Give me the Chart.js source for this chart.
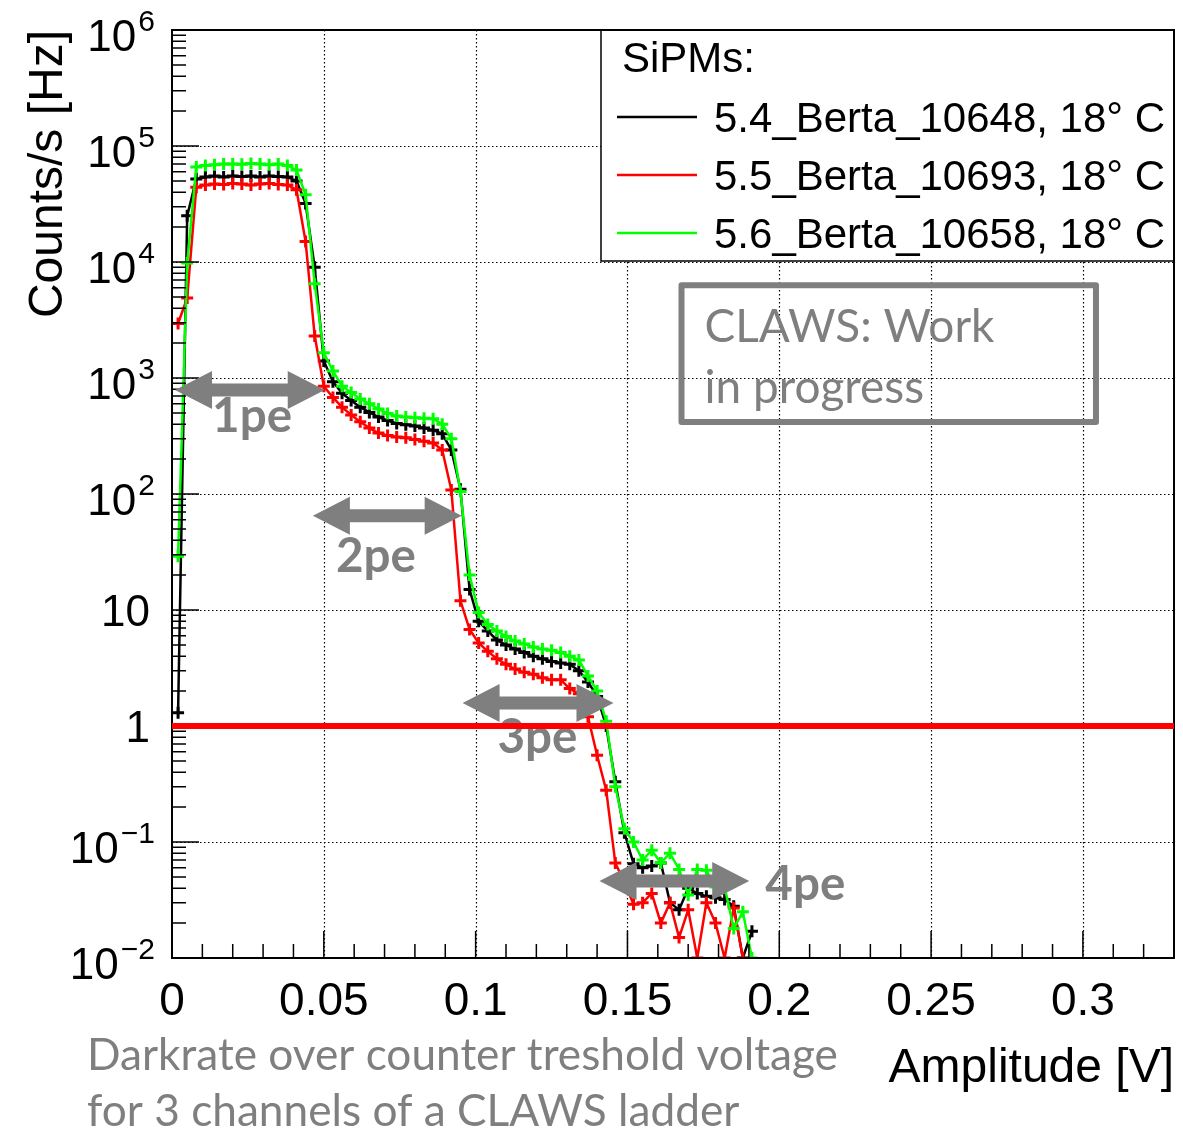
<!DOCTYPE html>
<html>
<head>
<meta charset="utf-8">
<script src="https://cdn.jsdelivr.net/npm/chart.js@4.4.0/dist/chart.umd.min.js"></script>
<style>
  html, body { margin: 0; padding: 0; background: #fff; }
  #wrap { width: 1183px; height: 1131px; position: relative; }
</style>
</head>
<body>
<div id="wrap"><canvas id="darkrate"></canvas></div>
<script>
// counter threshold (V)
const thresholds = [0.002, 0.005, 0.008, 0.011, 0.014, 0.017, 0.020, 0.023, 0.026, 0.029,
  0.032, 0.035, 0.038, 0.041, 0.044, 0.047, 0.050, 0.053, 0.056, 0.059,
  0.062, 0.065, 0.068, 0.071, 0.074, 0.077, 0.080, 0.083, 0.086, 0.089,
  0.092, 0.095, 0.098, 0.101, 0.104, 0.107, 0.110, 0.113, 0.116, 0.119,
  0.122, 0.125, 0.128, 0.131, 0.134, 0.137, 0.140, 0.143, 0.146, 0.149,
  0.152, 0.155, 0.158, 0.161, 0.164, 0.167, 0.170, 0.173, 0.176, 0.179,
  0.182, 0.185, 0.188, 0.191];

// dark rate (Hz) per SiPM
const rate10648 = [1.3, 25000, 52000, 54000, 55000, 54000, 55000, 54500, 55000, 54000,
  55000, 54500, 54000, 50000, 32000, 9000, 1400, 930, 740, 640,
  560, 505, 460, 430, 405, 395, 385, 370, 355, 330,
  240, 110, 15, 8.0, 6.6, 5.5, 5.0, 4.6, 4.3, 4.0,
  3.8, 3.6, 3.5, 3.4, 3.0, 2.4, 1.8, 1.0, 0.33, 0.12,
  0.065, 0.06, 0.062, 0.066, 0.03, 0.026, 0.04, 0.036, 0.034, 0.033,
  0.032, 0.028, 0.01, 0.017];
const rate10693 = [2950, 4900, 44000, 46000, 47000, 46500, 47500, 47000, 46000, 47000,
  47500, 46500, 46000, 42000, 15000, 2300, 850, 680, 560, 480,
  420, 370, 335, 320, 310, 305, 295, 285, 275, 240,
  108, 12, 6.8, 5.2, 4.4, 3.8, 3.4, 3.1, 2.9, 2.8,
  2.6, 2.5, 2.5, 2.1, 1.9, 1.2, 0.56, 0.28, 0.066, 0.045,
  0.029, 0.03, 0.036, 0.020, 0.03, 0.015, 0.026, 0.01, 0.03, 0.02,
  0.01, 0.027, 0.01];
const rate10658 = [29, 9800, 66000, 68000, 69000, 70000, 70000, 69500, 70500, 70000,
  69000, 70000, 68000, 62000, 38000, 6500, 1650, 1150, 850, 750,
  660, 600, 540, 495, 470, 460, 455, 450, 445, 400,
  300, 105, 20, 9.5, 7.5, 6.6, 5.9, 5.4, 5.1, 4.8,
  4.6, 4.5, 4.3, 4.0, 3.7, 2.7, 2.0, 1.1, 0.30, 0.13,
  0.10, 0.07, 0.085, 0.066, 0.08, 0.058, 0.035, 0.058, 0.057, 0.041,
  0.041, 0.018, 0.025, 0.01];

const seriesLabels = ['5.4_Berta_10648, 18° C', '5.5_Berta_10693, 18° C', '5.6_Berta_10658, 18° C'];
const seriesColors = ['#000000', '#ff0000', '#00ff00'];
const xTicks = [0, 0.05, 0.1, 0.15, 0.2, 0.25, 0.3];
const xTickLabels = ['0', '0.05', '0.1', '0.15', '0.2', '0.25', '0.3'];
const yDecades = [-2, -1, 0, 1, 2, 3, 4, 5, 6];
const limitRate = 1; // 1 Hz line

const HELV = '"Liberation Sans", Arial, sans-serif';
const CALI = 'Lato, "Open Sans", sans-serif';
const GRAY = '#7f7f7f';

function toPoints(values) {
  return values.map((v, i) => ({ x: thresholds[i], y: v }));
}

function fitFont(ctx, text, weight, family, width) {
  ctx.font = weight + ' 100px ' + family;
  return 100 * width / ctx.measureText(text).width;
}

function drawArrow(ctx, x1, x2, y) {
  const hl = 37, hh = 19, st = 6.5;
  ctx.beginPath();
  ctx.moveTo(x1, y);
  ctx.lineTo(x1 + hl, y - hh);
  ctx.lineTo(x1 + hl, y - st);
  ctx.lineTo(x2 - hl, y - st);
  ctx.lineTo(x2 - hl, y - hh);
  ctx.lineTo(x2, y);
  ctx.lineTo(x2 - hl, y + hh);
  ctx.lineTo(x2 - hl, y + st);
  ctx.lineTo(x1 + hl, y + st);
  ctx.lineTo(x1 + hl, y + hh);
  ctx.closePath();
  ctx.fill();
}

const rootFrame = {
  id: 'rootFrame',
  beforeDatasetsDraw(chart) {
    const { ctx, chartArea: a, scales: { x, y } } = chart;
    ctx.save();
    ctx.strokeStyle = '#000';
    ctx.lineWidth = 1.2;
    ctx.setLineDash([1.5, 2.5]);
    ctx.beginPath();
    xTicks.slice(1).forEach(v => {
      const px = Math.round(x.getPixelForValue(v)) + 0.5;
      ctx.moveTo(px, a.top); ctx.lineTo(px, a.bottom);
    });
    yDecades.slice(1, -1).forEach(k => {
      const py = Math.round(y.getPixelForValue(Math.pow(10, k))) + 0.5;
      ctx.moveTo(a.left, py); ctx.lineTo(a.right, py);
    });
    ctx.stroke();
    ctx.restore();
  },
  afterDatasetsDraw(chart, args, opts) {
    const { ctx, chartArea: a, scales: { x, y } } = chart;
    ctx.save();

    // legend
    ctx.fillStyle = '#fff';
    ctx.fillRect(601, a.top, a.right - 601, 231);
    ctx.strokeStyle = '#000';
    ctx.lineWidth = 1.5;
    ctx.strokeRect(601, a.top, a.right - 601, 231);
    ctx.fillStyle = '#000';
    ctx.font = '42px ' + HELV;
    ctx.textAlign = 'left';
    ctx.textBaseline = 'alphabetic';
    ctx.fillText('SiPMs:', 622, 72);
    chart.data.datasets.forEach((ds, i) => {
      const ly = 117 + i * 58;
      ctx.strokeStyle = ds.borderColor;
      ctx.lineWidth = 2.5;
      ctx.beginPath(); ctx.moveTo(617, ly); ctx.lineTo(697, ly); ctx.stroke();
      ctx.fillStyle = '#000';
      ctx.fillText(ds.label, 714, ly + 15);
    });

    // frame
    ctx.strokeStyle = '#000';
    ctx.lineWidth = 2;
    ctx.strokeRect(a.left, a.top, a.right - a.left, a.bottom - a.top);

    // y ticks
    ctx.lineWidth = 1.5;
    ctx.beginPath();
    for (let k = -2; k <= 6; k++) {
      const py = y.getPixelForValue(Math.pow(10, k));
      ctx.moveTo(a.left, py); ctx.lineTo(a.left + 27, py);
      if (k < 6) {
        for (let m = 2; m <= 9; m++) {
          const pm = y.getPixelForValue(m * Math.pow(10, k));
          ctx.moveTo(a.left, pm); ctx.lineTo(a.left + 14, pm);
        }
      }
    }
    // x ticks
    for (let i = 0; i <= 33; i++) {
      const px = x.getPixelForValue(i / 100);
      const len = i % 5 === 0 ? 27 : 14;
      ctx.moveTo(px, a.bottom); ctx.lineTo(px, a.bottom - len);
    }
    ctx.stroke();

    // y tick labels
    ctx.fillStyle = '#000';
    ctx.textAlign = 'right';
    yDecades.forEach(k => {
      const py = y.getPixelForValue(Math.pow(10, k));
      if (k === 0 || k === 1) {
        ctx.font = '44px ' + HELV;
        ctx.fillText(k === 0 ? '1' : '10', 150, py + 16);
      } else {
        const ex = k < 0 ? '\u2212' + (-k) : String(k);
        ctx.font = '30px ' + HELV;
        const w = ctx.measureText(ex).width;
        ctx.fillText(ex, 155, py + 1);
        ctx.font = '44px ' + HELV;
        ctx.fillText('10', 155 - w - 2, py + 21);
      }
    });

    // x tick labels
    ctx.textAlign = 'center';
    ctx.font = '46px ' + HELV;
    xTicks.forEach((v, i) => ctx.fillText(xTickLabels[i], x.getPixelForValue(v), 1015));

    // axis titles
    ctx.font = '48px ' + HELV;
    ctx.textAlign = 'right';
    ctx.fillText('Amplitude [V]', a.right, 1082);
    ctx.save();
    ctx.translate(62, a.top);
    ctx.rotate(-Math.PI / 2);
    ctx.fillText('Counts/s [Hz]', 0, 0);
    ctx.restore();

    // pe arrows
    ctx.fillStyle = GRAY;
    const peSize = fitFont(ctx, '1pe', 'bold', CALI, 80);
    opts.arrows.forEach(ar => {
      drawArrow(ctx, x.getPixelForValue(ar.from), x.getPixelForValue(ar.to), y.getPixelForValue(ar.at));
      ctx.font = 'bold ' + peSize + 'px ' + CALI;
      ctx.textAlign = 'left';
      ctx.fillText(ar.label, x.getPixelForValue(ar.textX), y.getPixelForValue(ar.textY));
    });

    // work in progress box
    const b = opts.box;
    const bx1 = x.getPixelForValue(b.x1), bx2 = x.getPixelForValue(b.x2);
    const by1 = y.getPixelForValue(b.y1), by2 = y.getPixelForValue(b.y2);
    ctx.strokeStyle = GRAY;
    ctx.lineWidth = 6;
    ctx.lineJoin = 'round';
    ctx.strokeRect(bx1, by1, bx2 - bx1, by2 - by1);
    const boxSize = fitFont(ctx, b.lines[0], 'normal', CALI, 290);
    ctx.font = boxSize + 'px ' + CALI;
    ctx.fillStyle = GRAY;
    ctx.fillText(b.lines[0], bx1 + 23, by1 + 57);
    ctx.fillText(b.lines[1], bx1 + 23, by1 + 118);

    // caption
    const capSize = fitFont(ctx, opts.caption[0], 'normal', CALI, 751);
    ctx.font = capSize + 'px ' + CALI;
    ctx.fillText(opts.caption[0], 87, 1070);
    ctx.fillText(opts.caption[1], 87, 1126);

    // 1 Hz line
    const py1 = y.getPixelForValue(limitRate);
    ctx.strokeStyle = '#ff0000';
    ctx.lineWidth = 6;
    ctx.beginPath(); ctx.moveTo(a.left, py1); ctx.lineTo(a.right, py1); ctx.stroke();

    ctx.restore();
  }
};

const rates = [rate10648, rate10693, rate10658];
const datasets = rates.map((values, i) => ({
  label: seriesLabels[i],
  data: toPoints(values),
  borderColor: seriesColors[i],
  backgroundColor: seriesColors[i],
  borderWidth: 2.5,
  pointStyle: 'cross',
  pointRadius: 6,
  pointHoverRadius: 6,
  pointBorderWidth: 3,
  tension: 0,
  fill: false,
  order: 3 - i
}));

new Chart(document.getElementById('darkrate'), {
  type: 'line',
  data: { datasets: datasets },
  options: {
    responsive: true,
    maintainAspectRatio: false,
    animation: false,
    layout: { padding: { left: 172, right: 6, top: 30, bottom: 173 } },
    scales: {
      x: { type: 'linear', min: 0, max: 0.33, display: false },
      y: { type: 'logarithmic', min: 0.01, max: 1e6, display: false }
    },
    plugins: {
      legend: { display: false },
      tooltip: { enabled: false },
      rootFrame: {
        arrows: [
          { from: 0.001, to: 0.0503, at: 790, label: '1pe', textX: 0.0132, textY: 342 },
          { from: 0.0464, to: 0.0954, at: 65, label: '2pe', textX: 0.054, textY: 21.3 },
          { from: 0.0957, to: 0.1454, at: 1.58, label: '3pe', textX: 0.1072, textY: 0.585 },
          { from: 0.1408, to: 0.1901, at: 0.046, label: '4pe', textX: 0.1954, textY: 0.0316 }
        ],
        box: { x1: 0.1678, x2: 0.3043, y1: 6300, y2: 417, lines: ['CLAWS: Work', 'in progress'] },
        caption: ['Darkrate over counter treshold voltage', 'for 3 channels of a CLAWS ladder']
      }
    }
  },
  plugins: [rootFrame]
});
</script>
</body>
</html>
